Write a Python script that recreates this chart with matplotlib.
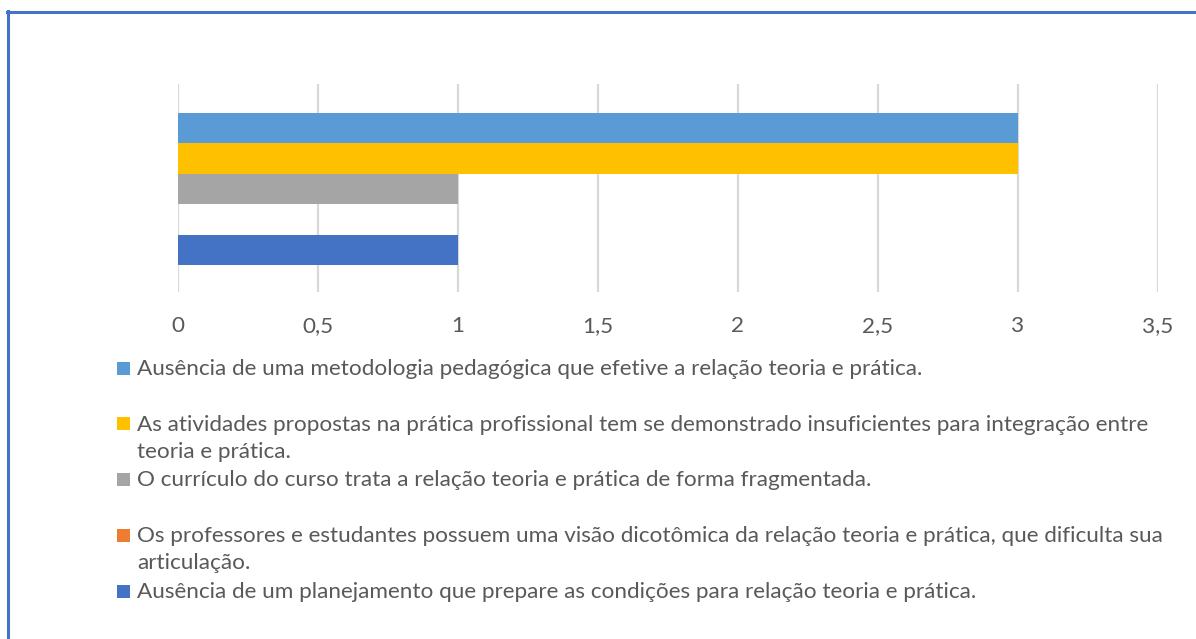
import matplotlib
matplotlib.use("Agg")
import matplotlib.pyplot as plt
from matplotlib.patches import Rectangle
from matplotlib.lines import Line2D
from matplotlib.ticker import FuncFormatter

labels = [
    "Ausência de uma metodologia pedagógica que efetive a relação teoria e prática.",
    "As atividades propostas na prática profissional tem se demonstrado insuficientes para integração entre\nteoria e prática.",
    "O currículo do curso trata a relação teoria e prática de forma fragmentada.",
    "Os professores e estudantes possuem uma visão dicotômica da relação teoria e prática, que dificulta sua\narticulação.",
    "Ausência de um planejamento que prepare as condições para relação teoria e prática.",
]
values = [3, 3, 1, 0, 1]
colors = ["#5B9BD5", "#FFC000", "#A5A5A5", "#ED7D31", "#4472C4"]
xticks = [0, 0.5, 1, 1.5, 2, 2.5, 3, 3.5]

plt.rcParams['font.family'] = ['Lato', 'DejaVu Sans']
W, H = 1196, 639
FS = 16.2
fig = plt.figure(figsize=(W / 100, H / 100), dpi=100)
ax = fig.add_axes([178 / W, 1 - 292 / H, (1158 - 178) / W, (292 - 84) / H])

pos = list(range(len(values)))
ax.barh(pos, values, height=1.0, color=colors, zorder=3)
ax.set_ylim(5.39, -1.45)
ax.set_xlim(0, 3.5)
ax.set_xticks(xticks)
ax.xaxis.set_major_formatter(FuncFormatter(lambda v, p: ("%g" % v).replace(".", ",")))
ax.set_yticks([])
ax.grid(axis="x", color="#D9D9D9", linewidth=1.6, zorder=0)
for s in ax.spines.values():
    s.set_visible(False)
ax.tick_params(axis="x", length=0, pad=17, labelsize=FS, labelcolor="#595959")

# legend, laid out like the Excel one (wrapped lines drawn one by one)
ytop = 368
step = 55.75
for i, (lab, c) in enumerate(zip(labels, colors)):
    yc = ytop + i * step
    fig.add_artist(Rectangle((117 / W, 1 - (yc + 6.5) / H), 13 / W, 13 / H,
                             transform=fig.transFigure, facecolor=c, edgecolor="none"))
    for j, line in enumerate(lab.split("\n")):
        fig.text(137 / W, 1 - (yc + 7 + 27 * j) / H, line, fontsize=FS, color="#595959",
                 va="baseline", ha="left")

# frame border (left and top only visible)
fig.add_artist(Line2D([7.5 / W, 7.5 / W], [0, 1 - 11 / H], color="#4472C4", linewidth=2.2,
                      transform=fig.transFigure))
fig.add_artist(Line2D([6.5 / W, 1], [1 - 11.5 / H, 1 - 11.5 / H], color="#4472C4", linewidth=2.2,
                      transform=fig.transFigure))

fig.savefig("out.png", dpi=100)
